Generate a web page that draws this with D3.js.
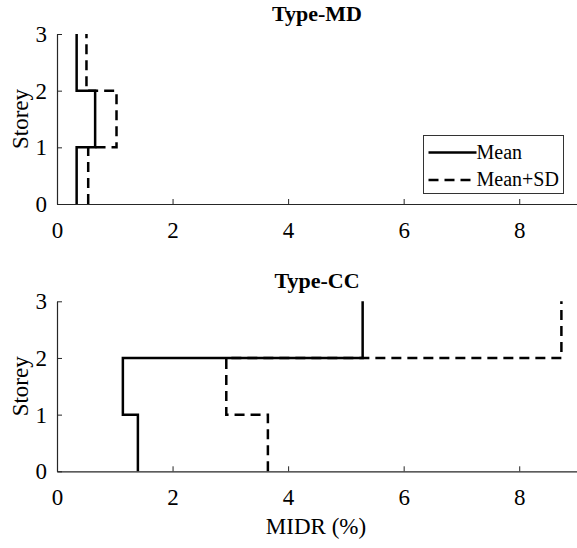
<!DOCTYPE html>
<html>
<head>
<meta charset="utf-8">
<script src="https://cdn.jsdelivr.net/npm/d3@7"></script>
</head>
<body style="margin:0;background:#fff">
<div id="chart"></div>
<script>
// Storey boundaries and MIDR (%) per storey (storey 1..3)
const storeys = [0, 1, 2, 3];
const xTicks = [0, 2, 4, 6, 8];
const yTicks = [0, 1, 2, 3];

const mdMean = [0.34, 0.66, 0.34];
const mdMeanSD = [0.54, 1.03, 0.51];
const ccMean = [1.4, 1.14, 5.29];
const ccMeanSD = [3.65, 2.93, 8.73];

const panels = [
  { title: "Type-MD", mean: mdMean, sd: mdMeanSD, top: 34, legend: true, xlabel: false },
  { title: "Type-CC", mean: ccMean, sd: ccMeanSD, top: 301.3, legend: false, xlabel: true },
];

const width = 577;
const height = 548;
const margin = { left: 57, right: 0 };
const panelH = 170;
const axisColor = "#262626";
const font = "Liberation Serif";

const svg = d3
  .select("#chart")
  .append("svg")
  .attr("width", width)
  .attr("height", height)
  .attr("font-family", font);

const x = d3.scaleLinear().domain([0, 9]).range([margin.left, width - margin.right]);

// turn per-storey values into stair points
function stairs(vals) {
  const pts = [];
  vals.forEach((v, i) => {
    pts.push([v, storeys[i]]);
    pts.push([v, storeys[i + 1]]);
  });
  return pts;
}

panels.forEach((p) => {
  const y = d3
    .scaleLinear()
    .domain([0, 3])
    .range([p.top + panelH, p.top]);

  const g = svg.append("g");

  const line = d3
    .line()
    .x((d) => x(d[0]))
    .y((d) => y(d[1]));

  g.append("path")
    .datum(stairs(p.sd))
    .attr("fill", "none")
    .attr("stroke", "#000")
    .attr("stroke-width", 2.5)
    .attr("stroke-dasharray", "10,6")
    .attr("d", line);

  g.append("path")
    .datum(stairs(p.mean))
    .attr("fill", "none")
    .attr("stroke", "#000")
    .attr("stroke-width", 2.5)
    .attr("d", line);

  // x axis with inward ticks
  const xa = g
    .append("g")
    .attr("transform", `translate(0,${y(0)})`)
    .call(
      d3.axisBottom(x)
        .tickValues(xTicks)
        .tickFormat(d3.format("d"))
        .tickSizeInner(-5)
        .tickSizeOuter(0)
        .tickPadding(0),
    );
  xa.attr("font-family", font).attr("font-size", 23);
  xa.select(".domain").attr("stroke", axisColor).attr("stroke-width", 1.2);
  xa.selectAll(".tick line").attr("stroke", axisColor);
  xa.selectAll(".tick text")
    .attr("y", 34)
    .attr("dy", null)
    .attr("font-family", font)
    .attr("font-size", 23)
    .attr("fill", "#000");

  const ya = g
    .append("g")
    .attr("transform", `translate(${margin.left},0)`)
    .call(
      d3.axisLeft(y)
        .tickValues(yTicks)
        .tickFormat(d3.format("d"))
        .tickSizeInner(-5)
        .tickSizeOuter(0)
        .tickPadding(10),
    );
  ya.attr("font-family", font).attr("font-size", 23);
  ya.select(".domain").attr("stroke", axisColor).attr("stroke-width", 1.2);
  ya.selectAll(".tick line").attr("stroke", axisColor);
  ya.selectAll(".tick text")
    .attr("font-family", font)
    .attr("font-size", 23)
    .attr("dy", "0.32em")
    .attr("fill", "#000");

  g.append("text")
    .attr("x", (x(0) + x(9)) / 2)
    .attr("y", p.top - 13)
    .attr("text-anchor", "middle")
    .attr("font-family", font)
    .attr("font-size", 22)
    .attr("font-weight", "bold")
    .text(p.title);

  g.append("text")
    .attr("transform", `translate(28,${(y(0) + y(3)) / 2}) rotate(-90)`)
    .attr("text-anchor", "middle")
    .attr("font-family", font)
    .attr("font-size", 23)
    .text("Storey");

  if (p.xlabel) {
    g.append("text")
      .attr("x", (x(0) + x(9)) / 2 - 1)
      .attr("y", y(0) + 63)
      .attr("text-anchor", "middle")
      .attr("font-family", font)
      .attr("font-size", 23)
      .text("MIDR (%)");
  }

  if (p.legend) {
    const items = [
      { label: "Mean", dash: null },
      { label: "Mean+SD", dash: "10,6" },
    ];
    const lg = svg.append("g").attr("transform", "translate(423.5,135.5)");
    lg.append("rect")
      .attr("width", 140)
      .attr("height", 58)
      .attr("fill", "#fff")
      .attr("stroke", "#333")
      .attr("stroke-width", 1);
    items.forEach((item, i) => {
      const row = lg.append("g").attr("transform", `translate(0,${17 + i * 27.5})`);
      row.append("line")
        .attr("x1", 5)
        .attr("x2", 53)
        .attr("stroke", "#000")
        .attr("stroke-width", 2.5)
        .attr("stroke-dasharray", item.dash);
      row.append("text")
        .attr("x", 53)
        .attr("y", 6)
        .attr("font-family", font)
        .attr("font-size", 20)
        .text(item.label);
    });
  }
});
</script>
</body>
</html>
